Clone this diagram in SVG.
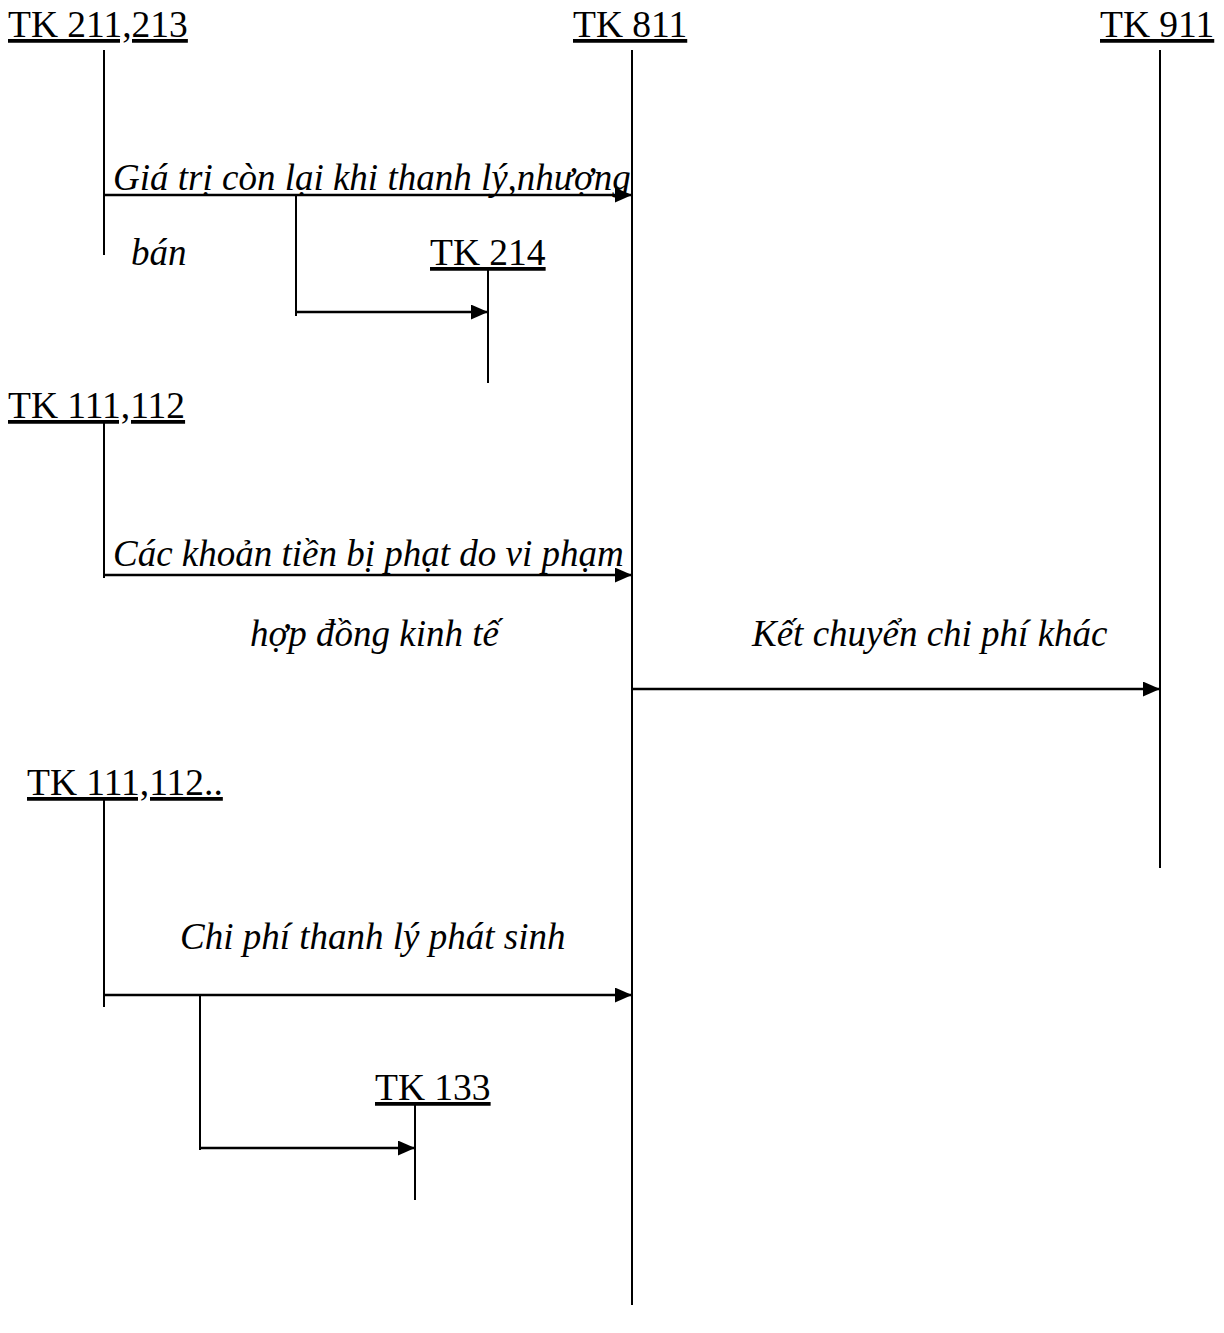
<svg xmlns="http://www.w3.org/2000/svg" width="1224" height="1333" viewBox="0 0 1224 1333">
<style>
text{font-family:"Liberation Serif","Times New Roman",serif;font-size:37.5px;fill:#000}
.acc{text-decoration:underline}
.lbl{font-style:italic;font-size:37px}
line{stroke:#000;stroke-width:2}
.arr{stroke-width:2.5;marker-end:url(#ah)}
</style>
<defs>
<marker id="ah" viewBox="0 0 16 14" refX="16" refY="7" markerWidth="17" markerHeight="15" markerUnits="userSpaceOnUse" orient="auto">
<path d="M0,0 L16,7 L0,14 Z" fill="#000"/>
</marker>
</defs>
<rect width="1224" height="1333" fill="#fff"/>
<g id="tk211">
<text class="acc" x="8" y="37">TK 211,213</text>
<line x1="104" y1="50" x2="104" y2="255"/>
</g>
<g id="tk811">
<text class="acc" x="573" y="37">TK 811</text>
<line x1="632" y1="50" x2="632" y2="1305"/>
</g>
<g id="tk911">
<text class="acc" x="1100" y="37">TK 911</text>
<line x1="1160" y1="50" x2="1160" y2="868"/>
</g>
<g id="tk214">
<text class="acc" x="430" y="265">TK 214</text>
<line x1="488" y1="268" x2="488" y2="383"/>
</g>
<g id="tk111a">
<text class="acc" x="8" y="418">TK 111,112</text>
<line x1="104" y1="420" x2="104" y2="578"/>
</g>
<g id="tk111b">
<text class="acc" x="27" y="795">TK 111,112..</text>
<line x1="104" y1="800" x2="104" y2="1007"/>
</g>
<g id="tk133">
<text class="acc" x="375" y="1100">TK 133</text>
<line x1="415" y1="1102" x2="415" y2="1200"/>
</g>
<g id="connectors">
<line class="arr" x1="104" y1="195" x2="632" y2="195"/>
<line x1="296" y1="195" x2="296" y2="316"/>
<line class="arr" x1="296" y1="312" x2="488" y2="312"/>
<line class="arr" x1="104" y1="575" x2="632" y2="575"/>
<line class="arr" x1="632" y1="689" x2="1160" y2="689"/>
<line class="arr" x1="104" y1="995" x2="632" y2="995"/>
<line x1="200" y1="995" x2="200" y2="1150"/>
<line class="arr" x1="200" y1="1148" x2="415" y2="1148"/>
</g>
<g id="labels">
<text class="lbl" x="113" y="190">Giá trị còn lại khi thanh lý,nhượng</text>
<text class="lbl" x="131" y="265">bán</text>
<text class="lbl" x="113" y="566">Các khoản tiền bị phạt do vi phạm</text>
<text class="lbl" x="250" y="646">hợp đồng kinh tế</text>
<text class="lbl" x="752" y="646">Kết chuyển chi phí khác</text>
<text class="lbl" x="180" y="949">Chi phí thanh lý phát sinh</text>
</g>
</svg>
